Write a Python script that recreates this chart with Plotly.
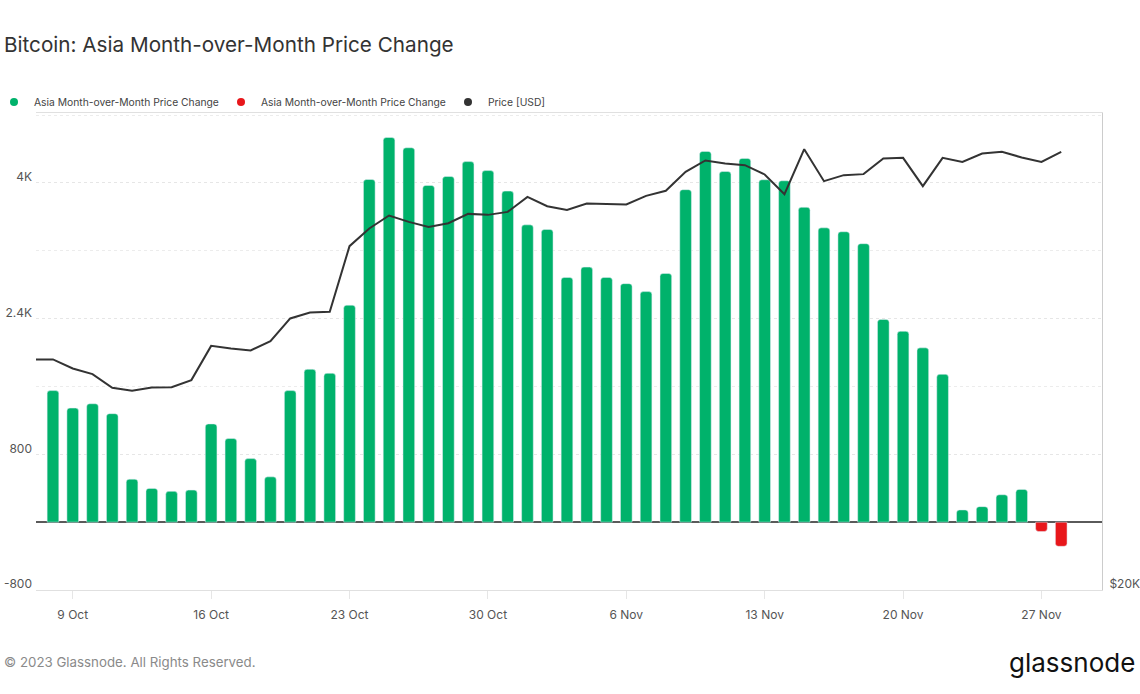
import plotly.graph_objects as go
import pandas as pd

# ---------------- data ----------------
bar_dates = pd.date_range("2023-10-08", "2023-11-28", freq="D")
mom_change = [1551, 1345, 1396, 1279, 507, 398, 363, 378, 1158, 986,
              749, 534, 1551, 1802, 1755, 2558, 4040, 4535, 4414, 3970,
              4075, 4251, 4145, 3903, 3505, 3451, 2885, 3007, 2885, 2812,
              2718, 2932, 3920, 4371, 4134, 4289, 4037, 4025, 3712, 3470,
              3424, 3283, 2390, 2250, 2055, 1743, 144, 183, 323, 386,
              -110, -285]

price_dates = pd.date_range("2023-10-07", "2023-11-28", freq="D")
price_usd = [27960, 27960, 27594, 27368, 26829, 26712, 26845, 26856, 27132, 28516,
             28410, 28328, 28714, 29676, 29936, 29962, 32962, 33820, 34464, 34146,
             33900, 34082, 34546, 34496, 34646,
             35410, 34934, 34748, 35072, 35050, 35022, 35462, 35722, 36722, 37336,
             37172, 37080, 36582, 35550, 37952, 36228, 36546, 36600, 37444, 37476,
             35966, 37476, 37258, 37714, 37804, 37498, 37258, 37804]

left_tickvals = [-800, 800, 2400, 4000]
left_ticktext = ["-800", "800", "2.4K", "4K"]
right_tickvals = [20000]
right_ticktext = ["$20K"]
x_tickvals = pd.date_range("2023-10-09", "2023-11-27", freq="7D")

GREEN = "#00b26b"
RED = "#e8171b"
LINE = "#333333"
NAME = "Asia Month-over-Month Price Change"

pos = [v if v >= 0 else None for v in mom_change]
neg = [v if v < 0 else None for v in mom_change]

fig = go.Figure()
fig.add_trace(go.Bar(x=bar_dates, y=pos, marker=dict(color=GREEN, cornerradius=3),
                     name=NAME, showlegend=False))
fig.add_trace(go.Bar(x=bar_dates, y=neg, marker=dict(color=RED, cornerradius=3),
                     name=NAME, showlegend=False))
fig.add_trace(go.Scatter(x=price_dates, y=price_usd, mode="lines", yaxis="y2",
                         line=dict(color=LINE, width=2), name="Price [USD]",
                         showlegend=False))
# legend entries (dot markers)
for nm, col in [(NAME, GREEN), (NAME, RED), ("Price [USD]", LINE)]:
    fig.add_trace(go.Scatter(x=[None], y=[None], mode="markers",
                             marker=dict(color=col, size=8), name=nm))

W, H = 1140, 694
L, R, T, B = 36, 38, 113, 104
pw = W - L - R
ph = H - T - B

def px_x(p):
    return (p - L) / pw

def px_y(p):
    return (H - B - p) / ph

fig.update_layout(
    width=W, height=H,
    margin=dict(l=L, r=R, t=T, b=B, pad=0, autoexpand=False),
    paper_bgcolor="white", plot_bgcolor="white",
    font=dict(family="Inter", color="#555555", size=12),
    barmode="overlay", bargap=0.41,
    showlegend=True,
    legend=dict(orientation="h", x=px_x(-6), xanchor="left", y=px_y(102), yanchor="middle",
                font=dict(size=10.3, color="#444444"), itemwidth=30,
                entrywidth=182, entrywidthmode="pixels",
                bgcolor="rgba(0,0,0,0)", traceorder="normal"),
    xaxis=dict(type="date", automargin=False,
               range=["2023-10-07 03:24", "2023-11-30 01:30"],
               tickvals=x_tickvals, tickformat="%-d %b",
               ticks="outside", ticklen=8, tickcolor="#e6e6e6",
               ticklabelstandoff=6,
               showgrid=False, showline=True, linecolor="#e0e0e0", linewidth=1,
               mirror=True, tickfont=dict(size=12, color="#555555"),
               zeroline=False),
    yaxis=dict(range=[-800, 4824], tickvals=left_tickvals, ticktext=left_ticktext,
               automargin=False,
               showgrid=True, gridcolor="#e6e6e6", gridwidth=1, griddash="dot",
               minor=dict(dtick=800, tick0=0, showgrid=True, gridcolor="#ececec",
                          griddash="dot"),
               zeroline=True, zerolinecolor="#5a5a5a", zerolinewidth=2,
               showline=False, ticks="", ticklabelstandoff=3, ticklabelshift=-6,
               tickfont=dict(size=12, color="#555555")),
    yaxis2=dict(type="log", range=[4.30103, 4.60206], overlaying="y", side="right",
                automargin=False,
                tickvals=right_tickvals, ticktext=right_ticktext,
                showgrid=False, zeroline=False, showline=True, linecolor="#cccccc",
                linewidth=1, ticks="", ticklabelstandoff=4, ticklabelshift=-6,
                tickfont=dict(size=12, color="#555555")),
    annotations=[
        dict(text="Bitcoin: Asia Month-over-Month Price Change", xref="paper", yref="paper",
             x=px_x(2), y=px_y(44), xanchor="left", yanchor="middle", showarrow=False,
             font=dict(size=20.7, color="#333333", family="Inter")),
        dict(text="© 2023 Glassnode. All Rights Reserved.", xref="paper", yref="paper",
             x=px_x(2), y=px_y(662), xanchor="left", yanchor="middle", showarrow=False,
             font=dict(size=13.3, color="#8a8a8a", family="Inter")),
        dict(text="glassnode", xref="paper", yref="paper",
             x=px_x(1137), y=px_y(662), xanchor="right", yanchor="middle", showarrow=False,
             font=dict(size=26, color="#111111", family="Inter")),
    ],
)

fig.write_html("out.html")
